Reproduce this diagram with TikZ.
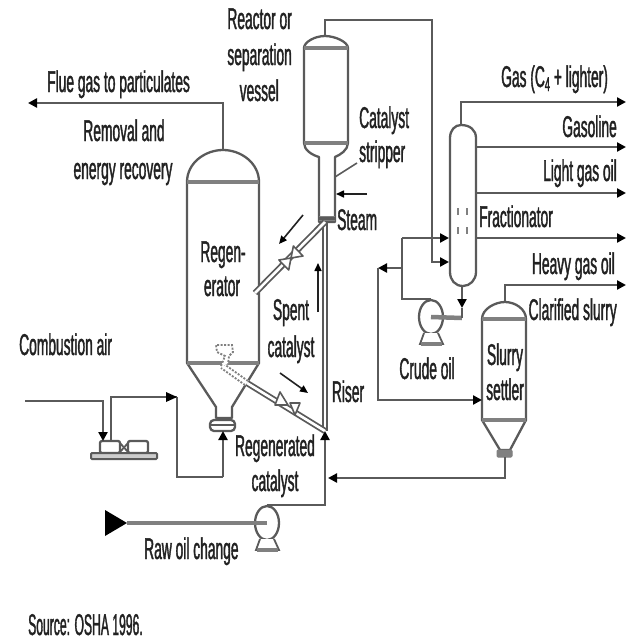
\documentclass[tikz,border=0pt]{standalone}
\usepackage{fontspec}
\setmainfont[FakeStretch=0.46,FakeBold=1.2]{Liberation Sans}
\usetikzlibrary{arrows.meta,shapes.geometric}
\definecolor{linecol}{HTML}{5A5A5A}
\definecolor{inkcol}{HTML}{222222}
\definecolor{bandcol}{HTML}{808080}
\tikzset{
  vessel/.style={draw=linecol,line width=2.3pt,fill=white,line join=round},
  band/.style={line width=4.5pt,draw=bandcol},
  flow/.style={draw=linecol,line width=2.6pt},
  flowarrow/.style={flow,-{Triangle[length=9pt,width=9pt,fill=black,color=black]}},
  thinarrow/.style={draw=inkcol,line width=1.6pt,-{Triangle[length=8pt,width=7pt,fill=black,color=black]}},
  pipe/.style={draw=linecol,double=white,double distance=2.6pt,line width=1.8pt},
  valve/.style={draw=linecol,line width=1.6pt,fill=white,line join=round},
  pumpcase/.style={ellipse,draw=linecol,line width=2.3pt,fill=white,minimum width=24pt,minimum height=34pt,inner sep=0pt},
  label/.style={font=\fontsize{30}{30}\selectfont,text=inkcol,inner sep=0pt,anchor=base},
  labelw/.style={label,anchor=base west},
  labele/.style={label,anchor=base east},
}
\begin{document}
\begin{tikzpicture}[x=1pt,y=-1pt]
\useasboundingbox (0,0) rectangle (640,640);
\fill[white] (0,0) rectangle (640,640);

% ---- ports and junctions
\coordinate (regtop) at (223,150);
\coordinate (flueend) at (28,103);
\coordinate (reactop) at (325,36);
\coordinate (fracin) at (449,262);
\coordinate (fractop) at (461,125);
\coordinate (fracbot) at (462,286);
\coordinate (gas) at (626,102);
\coordinate (gasfrom) at (476,147);
\coordinate (gasol) at (626,147);
\coordinate (lightfrom) at (476,193);
\coordinate (light) at (626,193);
\coordinate (fracR) at (476,238);
\coordinate (fracout) at (626,238);
\coordinate (fracL) at (449,238);
\coordinate (refl) at (402,238);
\coordinate (tee) at (402,268);
\coordinate (bypass) at (378,268);
\coordinate (setin) at (482,400);
\coordinate (settop) at (505,302);
\coordinate (heavy) at (626,285);
\coordinate (setbot) at (505,457);
\coordinate (riserjoin) at (328,478);
\coordinate (risertop) at (325,222);
\coordinate (riserbot) at (325,431);
\coordinate (airin) at (25,401);
\coordinate (blowin) at (103,441);
\coordinate (blowout) at (111,441);
\coordinate (airturn) at (177,397);
\coordinate (plenum) at (223,431);

% ---- regenerator
\draw[vessel] (187,182) .. controls (187,163) and (205,150) .. (regtop) .. controls (241,150) and (259,163) .. (259,182)
  -- (259,363) -- (232,407) -- (232,418) -- (216,418) -- (216,407) -- (187,363) -- cycle;
\draw[band] (187,182) -- (259,182);
\draw[band] (187,363) -- (259,363);
\draw[vessel,rounded corners=4pt] (210,420) rectangle (235,431);
\draw[draw=linecol,line width=1.5pt] (210,425) -- (235,425);

% ---- reactor and stripper
\draw[vessel] (304,48) .. controls (304,42) and (315,36) .. (reactop) .. controls (335,36) and (348,42) .. (348,48)
  -- (348,143) .. controls (348,150) and (340,155) .. (335,157) -- (335,222) -- (319,222) -- (319,157)
  .. controls (312,155) and (304,150) .. (304,143) -- cycle;
\draw[band] (304,48) -- (348,48);
\draw[band] (304,143) -- (348,143);
\draw[line width=5pt,draw=bandcol] (319,218) -- (335,218);

% ---- fractionator
\draw[vessel] (450,138) .. controls (450,130) and (455,125) .. (fractop) .. controls (470,125) and (476,130) .. (476,138)
  -- (476,272) .. controls (476,280) and (470,286) .. (463,286) .. controls (455,286) and (450,280) .. (450,272) -- cycle;
\foreach \tx in {458,467}{
  \draw[draw=bandcol,line width=2.4pt] (\tx,208) -- (\tx,215);
  \draw[draw=bandcol,line width=2.4pt] (\tx,227) -- (\tx,234);
}

% ---- slurry settler
\draw[vessel] (482,319) .. controls (482,309) and (495,302) .. (settop) .. controls (515,302) and (526,309) .. (526,319)
  -- (526,420) -- (510,450) -- (500,450) -- (482,420) -- cycle;
\draw[band] (482,319) -- (526,319);
\draw[band] (482,420) -- (526,420);
\draw[draw=bandcol,fill=bandcol,line width=1pt,rounded corners=1pt] (497,450) rectangle (512,457);

% ---- pumps
\node[pumpcase] (crude) at (431,317) {};
\draw[draw=linecol,line width=1.8pt,fill=white] (424,333) -- (420,344) -- (443,344) -- (438,333);
\draw[band] (421,344) -- (442,344);
\node[pumpcase] (raw) at (267,523) {};
\draw[draw=linecol,line width=1.8pt,fill=white] (260,539) -- (256,550) -- (279,550) -- (274,539);
\draw[band] (257,550) -- (278,550);

% ---- air blower
\draw[vessel,rounded corners=2pt] (100,441) rectangle (120,453);
\draw[vessel,rounded corners=2pt] (128,441) rectangle (148,453);
\draw[draw=linecol,line width=1.8pt] (120,443) -- (128,452) (120,452) -- (128,443);
\draw[draw=linecol,line width=2pt,fill=bandcol!40,rounded corners=1pt] (91,453) rectangle (157,459);

% ---- catalyst lines
\draw[pipe] (risertop) -- (riserbot);
\draw[pipe] (risertop) -- (255,293);
\draw[pipe] (riserbot) -- (247,383);
\draw[draw=white,line width=6pt] (247,383) -- (222,366);
\draw[draw=bandcol,line width=1.8pt,dash pattern=on 2pt off 1.5pt] (248,381) -- (224,364) (245,385) -- (221,368);
\draw[draw=bandcol,line width=1.8pt,dash pattern=on 2pt off 1.5pt,fill=white] (221,366) -- (225,356) -- (217,352) -- (216,345) -- (232,345) -- (233,352) -- (229,356) -- (228,364);
\draw[draw=linecol,line width=3pt] (319,218) -- (335,218);

% valves on the standpipes
\draw[valve] (291,258) -- (303,256) -- (293.4,246) -- cycle;
\draw[valve] (291,258) -- (288.7,270) -- (278.9,260) -- cycle;
\draw[valve] (275,405) -- (280,392) -- (288,405) -- cycle;
\draw[valve] (290,403) -- (300,403) -- (295,415) -- cycle;

% ---- process connectors
\draw[flowarrow] (regtop) |- (flueend);
\draw[flowarrow] (reactop) |- (432,20) |- (fracin);
\draw[flowarrow] (fractop) |- (gas);
\draw[flowarrow] (gasfrom) -- (gasol);
\draw[flowarrow] (lightfrom) -- (light);
\draw[flowarrow] (fracR) -- (fracout);
\draw[flowarrow] (refl) -- (fracL);
\draw[flow] (refl) |- (crude.north);
\draw[flowarrow] (tee) -- (bypass);
\draw[flowarrow] (bypass) |- (setin);
\draw[flowarrow] (settop) |- (heavy);
\draw[flowarrow] (setbot) |- (riserjoin);
\draw[flowarrow] (raw.north) -| (riserbot);
\draw[flowarrow] (fracbot) -- (462,308);
\draw[line width=4.5pt,draw=bandcol] (crude.center) -- (462,318);
\draw[flow] (462,308) -- (462,318);
\draw[line width=3.5pt,draw=bandcol] (raw.center) -- (127,523);
\draw[flowarrow] (airin) -| (blowin);
\draw[flow] (blowout) |- (airturn);
\draw[flow] (airturn) |- (223,477);
\draw[flowarrow] (223,477) -- (plenum);
\fill[black] (airturn) -- (166,392) -- (166,402) -- cycle;
\fill[black] (105,510) -- (127,523) -- (105,536) -- cycle;

% ---- direction arrows and pointers
\draw[thinarrow] (280,373) -- (308,393);
\draw[thinarrow] (318,312) -- (318,263);
\draw[thinarrow] (303,215) -- (279,244);
\draw[thinarrow] (367,194) -- (336,194);
\draw[draw=linecol,line width=1.6pt] (357,163) -- (335,177);

% ---- labels
\node[labelw] (tflue) at (47,92) {Flue gas to particulates};
\node[label] (trem) at (124,141) {Removal and};
\node[label] (teng) at (123,179) {energy recovery};
\node[labele] (treac) at (292,29) {Reactor or};
\node[labele] (tsep) at (292,65) {separation};
\node[labele] (tves) at (279,101) {vessel};
\node[labelw] (tcat) at (359,128) {Catalyst};
\node[labelw] (tstr) at (359,162) {stripper};
\node[labelw] (tsteam) at (337,230) {Steam};
\node[label] (tregen) at (223,262) {Regen-};
\node[label] (terat) at (222,296) {erator};
\node[label] (tspent) at (291,320) {Spent};
\node[label] (tscat) at (291,357) {catalyst};
\node[label] (trise) at (348,402) {Riser};
\node[label] (trgc) at (275,456) {Regenerated};
\node[label] (trgc2) at (275,491) {catalyst};
\node[labelw] (tair) at (19,355) {Combustion air};
\node[labelw] (traw) at (144,559) {Raw oil change};
\node[label] (tcrude) at (427,379) {Crude oil};
\node[label] (tslu) at (505,365) {Slurry};
\node[label] (tset) at (505,400) {settler};
\node[labelw] (tgas) at (501,87) {Gas (C\raisebox{-4pt}{\fontsize{20}{20}\selectfont 4} + lighter)};
\node[labele] (tgasol) at (617,137) {Gasoline};
\node[labele] (tlight) at (617,181) {Light gas oil};
\node[labelw] (tfrac) at (479,227) {Fractionator};
\node[labele] (theavy) at (615,274) {Heavy gas oil};
\node[labele] (tclar) at (617,320) {Clarified slurry};
\node[labelw] (tsrc) at (28,635) {\scalebox{0.88}[1]{Source: OSHA 1996.}};
\end{tikzpicture}
\end{document}
